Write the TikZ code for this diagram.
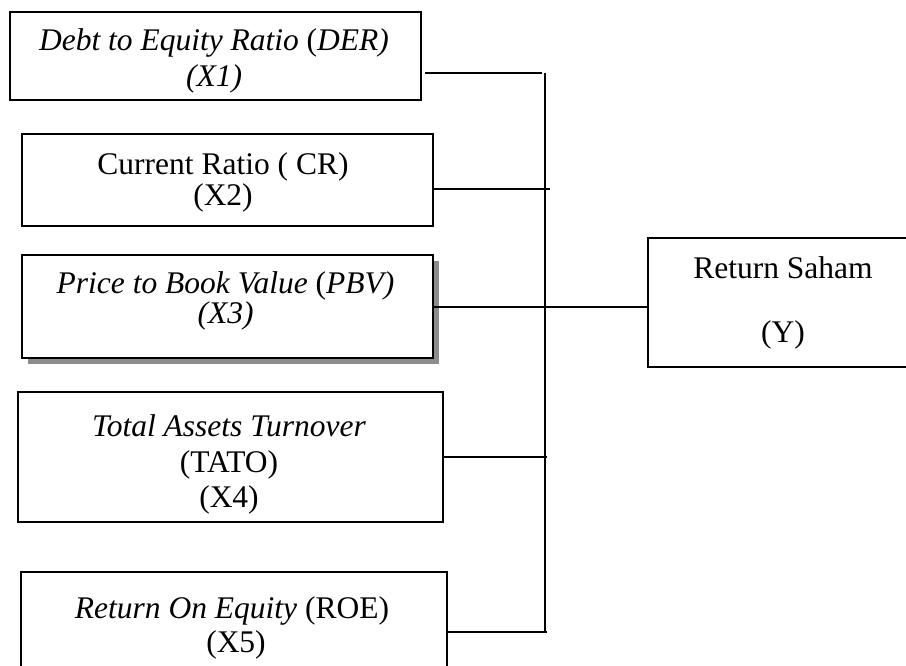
\documentclass[tikz,border=0pt]{standalone}
\usepackage{fontspec}
\setmainfont{Liberation Serif}
\begin{document}
\begin{tikzpicture}[x=1pt, y=-1pt,
  box/.style={draw, line width=1.5pt, fill=white, inner sep=0pt},
  wire/.style={line width=1.6pt},
  lbl/.style={anchor=base, inner sep=0pt, font=\fontsize{31.5}{36}\selectfont}]
\useasboundingbox (0,0) rectangle (906,666);
\clip (0,0) rectangle (906,666);

% independent variables
\node[box, minimum width=411pt, minimum height=88pt] (x1) at (215.5,56) {};
\node[box, minimum width=411pt, minimum height=92pt] (x2) at (227.5,180) {};
\fill[gray!90] (28,261) rectangle (439,364);
\node[box, minimum width=411pt, minimum height=103pt] (x3) at (227.5,306.5) {};
\node[box, minimum width=425pt, minimum height=130pt] (x4) at (230.5,457) {};
\node[box, minimum width=426pt, minimum height=128pt] (x5) at (234,636) {};

% dependent variable
\node[box, minimum width=272pt, minimum height=129pt] (y) at (784,302.5) {};

% labels
\node[lbl] (t1a) at (214,51) {\textit{Debt to Equity Ratio }(\textit{DER)}};
\node[lbl] (t1b) at (214,87) {\textit{(X1)}};
\node[lbl] (t2a) at (223,175) {Current Ratio ( CR)};
\node[lbl] (t2b) at (223,206) {(X2)};
\node[lbl] (t3a) at (225.5,294) {\textit{Price to Book Value }(\textit{PBV)}};
\node[lbl] (t3b) at (225.5,323) {\textit{(X3)}};
\node[lbl] (t4a) at (229,436) {\textit{Total Assets Turnover}};
\node[lbl] (t4b) at (229,472) {(TATO)};
\node[lbl] (t4c) at (229,507) {(X4)};
\node[lbl] (t5a) at (232,618) {\textit{Return On Equity} (ROE)};
\node[lbl] (t5b) at (236,652) {(X5)};
\node[lbl] (tya) at (783,278) {Return Saham};
\node[lbl] (tyb) at (783,342) {(Y)};

% connectors
\coordinate (top) at (545,73);
\coordinate (bot) at (545,632);
\coordinate (s2) at (550,189);
\coordinate (s4) at (547,457);
\draw[wire] (top) -- (bot);
\draw[wire] ([xshift=3pt]x1.east |- top) -- ([xshift=-3pt]top);
\draw[wire] (x2.east |- s2) -- (s2);
\draw[wire] (x3.east |- 0,307) -- (y.west |- 0,307);
\draw[wire] (x4.east |- s4) -- (s4);
\draw[wire] (x5.east |- bot) -- ([xshift=2pt]bot);
\end{tikzpicture}
\end{document}
